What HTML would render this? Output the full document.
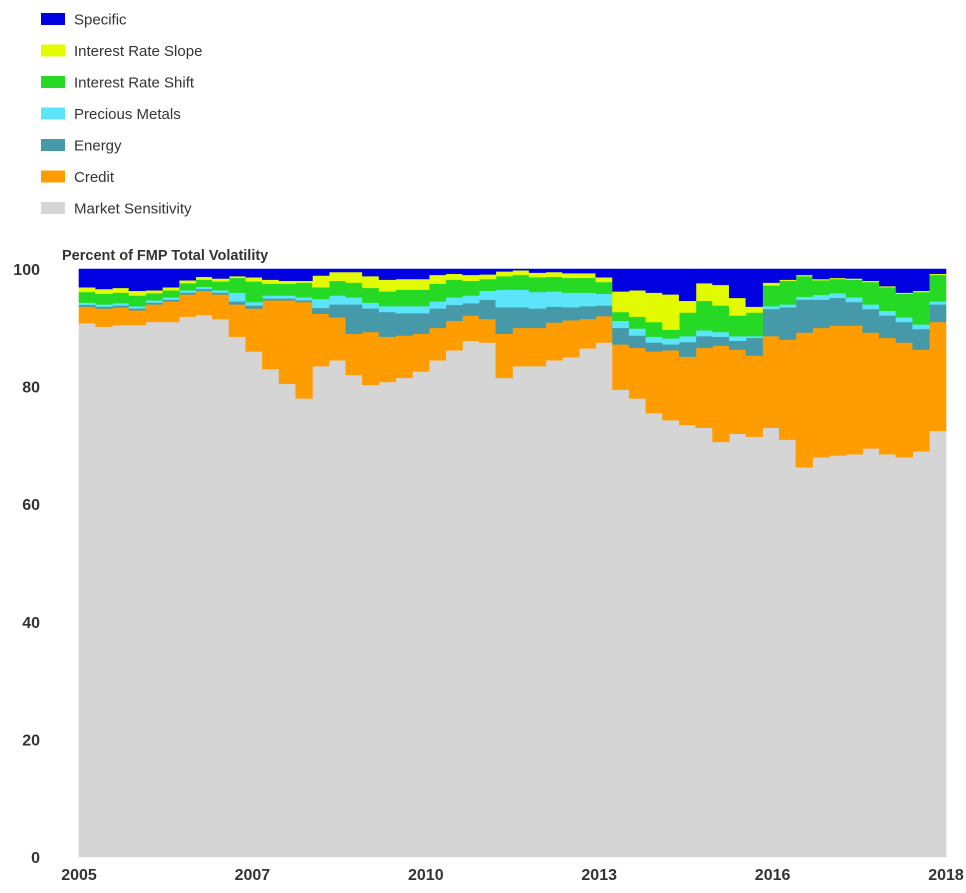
<!DOCTYPE html>
<html><head><meta charset="utf-8"><style>
body{margin:0;background:#fff;font-family:"Liberation Sans",sans-serif;}
svg text{font-family:"Liberation Sans",sans-serif;}
</style></head><body>
<svg id="chart" width="966" height="888" viewBox="0 0 966 888"></svg>
<script>
const seriesNames=["Market Sensitivity","Credit","Energy","Precious Metals","Interest Rate Shift","Interest Rate Slope","Specific"];
const seriesColors=["#d5d5d5","#ff9d00","#4599a8","#5ce4fb","#25d925","#e2fb00","#0000e0"];
const market=[90.8,90.2,90.5,90.5,91,91,91.9,92.2,91.5,88.5,86,83,80.5,78,83.5,84.5,82,80.3,80.8,81.5,82.6,84.5,86.2,87.8,87.5,81.5,83.5,83.5,84.5,85,86.5,87.5,79.5,78,75.5,74.3,73.5,73,70.6,72,71.5,73,71,66.3,68,68.3,68.5,69.5,68.5,68,69,72.5];
const credit=[2.8,3.1,3.0,2.5,3.0,3.5,3.8,4.1,4.2,5.5,7.3,11.7,14.2,16.4,8.9,7.3,7,9,7.7,7.2,6.4,5.5,5,4.3,4,7.5,6.5,6.5,6.4,6.3,5,4.5,7.7,8.6,10.5,11.9,11.6,13.6,16.4,14.3,13.8,15.6,17,22.9,22,22.1,21.9,19.7,19.8,19.5,17.3,18.5];
const energy=[0.3,0.3,0.3,0.3,0.3,0.3,0.3,0.3,0.3,0.5,0.5,0.3,0.3,0.3,1,2.2,5,4,4.2,3.8,3.5,3.3,2.7,2.1,3.3,4.5,3.5,3.3,2.7,2.2,2.2,1.8,2.8,2.1,1.5,1,2.5,2,1.5,1.5,3,4.6,5.5,5.6,4.8,4.7,4,4,3.8,3.5,3.5,3];
const precious=[0.4,0.4,0.4,0.4,0.4,0.4,0.4,0.4,0.4,1.5,0.6,0.5,0.5,0.5,1.5,1.5,1.2,1,1,1.2,1.2,1.2,1.3,1.3,1.5,3,3,2.8,2.6,2.5,2.3,2,1.2,1.2,1,1,1,1,0.8,0.8,0.3,0.5,0.5,0.5,0.8,0.8,0.8,0.8,0.8,0.8,0.8,0.5];
const shift=[1.8,1.8,1.8,1.8,1.2,1.2,1.2,1.2,1.5,2.5,3.5,2,2,2.5,2,2.5,2.5,2.5,2.5,2.8,2.8,3,3,2.5,2,2.3,2.5,2.5,2.5,2.5,2.5,2,1.5,2,2.5,1.5,4,5,4.5,3.5,4,3.5,4,3.5,2.5,2.4,3,3.8,4,4,5.5,4.5];
const slope=[0.8,0.8,0.8,0.8,0.5,0.5,0.5,0.5,0.5,0.3,0.7,0.7,0.5,0.3,2,1.5,1.8,2,2,1.8,1.8,1.5,1,1,0.8,0.8,0.8,0.8,0.8,0.8,0.8,0.8,3.5,4.5,5,6,2,3,3.5,3,1,0.5,0.2,0.2,0.2,0.2,0.2,0.2,0.2,0.2,0.2,0.2];
const yTicks=[0,20,40,60,80,100];
const xTickLabels=["2005","2007","2010","2013","2016","2018"];

const NS="http://www.w3.org/2000/svg";
const svg=document.getElementById("chart");
const X0=79,X1=946,Y0=857,Y1=269;
const N=market.length;
const xs=i=>X0+(X1-X0)*i/N;
const ys=v=>Y0-(Y0-Y1)*v/100;
function mk(tag,attrs,parent){const e=document.createElementNS(NS,tag);for(const k in attrs)e.setAttribute(k,attrs[k]);(parent||svg).appendChild(e);return e;}
const comps=[market,credit,energy,precious,shift,slope];
const specific=market.map((_,i)=>Math.max(0,100-comps.reduce((s,a)=>s+a[i],0)));
const all=[...comps,specific];
const cum=new Array(N).fill(0);
const gArea=mk("g",{});


all.forEach((arr,si)=>{
  const lower=cum.slice();
  for(let i=0;i<N;i++)cum[i]+=arr[i];
  let d="";
  for(let i=0;i<N;i++){d+=(i===0?"M":"L")+xs(i)+","+ys(Math.min(100,cum[i]))+"L"+xs(i+1)+","+ys(Math.min(100,cum[i]));}
  for(let i=N-1;i>=0;i--){d+="L"+xs(i+1)+","+ys(Math.min(100,lower[i]))+"L"+xs(i)+","+ys(Math.min(100,lower[i]));}
  d+="Z";
  const p=mk("path",{d:d,fill:seriesColors[si],stroke:seriesColors[si],"stroke-width":0.6},gArea);
  
  
});
yTicks.forEach(v=>{
  const t=mk("text",{x:40,y:ys(v)+6,"text-anchor":"end","font-size":16,"font-weight":"bold",fill:"#333"});
  t.textContent=v;
  
  
});
xTickLabels.forEach((l,i)=>{
  const t=mk("text",{x:X0+(X1-X0)*i/(xTickLabels.length-1),y:880,"text-anchor":"middle","font-size":16,"font-weight":"bold",fill:"#333"});
  t.textContent=l;
  
  
});
const title=mk("text",{x:62,y:260,"font-size":14.5,"font-weight":"bold",fill:"#333"});
title.textContent="Percent of FMP Total Volatility";


const legendOrder=[6,5,4,3,2,1,0];
legendOrder.forEach((si,r)=>{
  const y=19+r*31.5;
  const g=mk("g",{});
  
  
  mk("rect",{x:41,y:y-6,width:24,height:12,fill:seriesColors[si]},g);
  const t=mk("text",{x:74,y:y+5.5,"font-size":15,fill:"#333"},g);
  t.textContent=seriesNames[si];
});
</script>
</body></html>
